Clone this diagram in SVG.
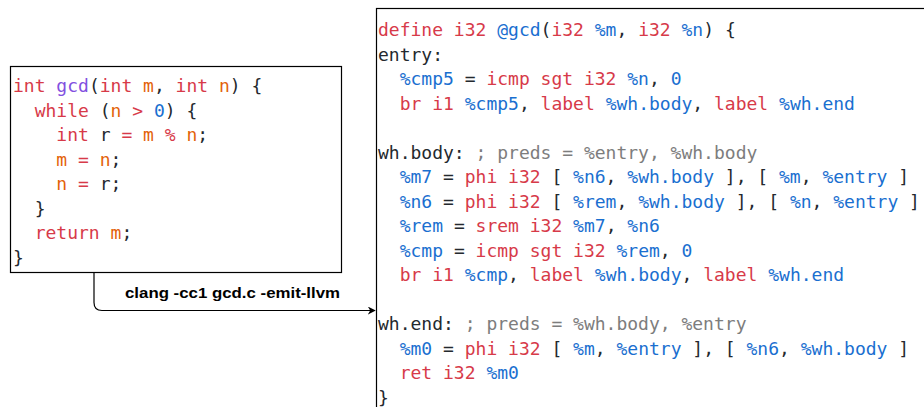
<svg xmlns="http://www.w3.org/2000/svg" width="924" height="407" viewBox="0 0 924 407">
  <style>
    .box { fill: #ffffff; stroke: #000000; stroke-width: 1.2; }
    .code { font-family: "DejaVu Sans Mono", "Liberation Mono", monospace; font-size: 18px; fill: #24292e; white-space: pre; }
    .kw { fill: #d73a49; }
    .id { fill: #1a6fd0; }
    .var { fill: #e36209; }
    .fn { fill: #8250df; }
    .num { fill: #1a6fd0; }
    .cm { fill: #7d7d7d; }
    .edge { fill: none; stroke: #000000; stroke-width: 1.2; }
    .label { font-family: "Liberation Sans", Arial, sans-serif; font-size: 15.5px; font-weight: bold; fill: #000000; }
  </style>
  <defs>
    <marker id="arrow" viewBox="0 0 10 10" refX="9" refY="5" markerWidth="8" markerHeight="8" markerUnits="userSpaceOnUse" orient="auto">
      <path d="M0,0 L10,5 L0,10 L3,5 Z" fill="#000000"/>
    </marker>
  </defs>
  <rect width="924" height="407" fill="#ffffff"/>

  <!-- C source -->
  <g id="c-source">
    <rect class="box" x="10.5" y="66.5" width="331" height="206"/>
    <text class="code" x="13" y="92.3"><tspan class="kw">int</tspan> <tspan class="fn">gcd</tspan>(<tspan class="kw">int</tspan> <tspan class="var">m</tspan>, <tspan class="kw">int</tspan> <tspan class="var">n</tspan>) {</text>
    <text class="code" x="13" y="116.8">  <tspan class="kw">while</tspan> (<tspan class="var">n</tspan> <tspan class="kw">&gt;</tspan> <tspan class="num">0</tspan>) {</text>
    <text class="code" x="13" y="141.3">    <tspan class="kw">int</tspan> r <tspan class="kw">=</tspan> <tspan class="var">m</tspan> <tspan class="kw">%</tspan> <tspan class="var">n</tspan>;</text>
    <text class="code" x="13" y="165.8">    <tspan class="var">m</tspan> <tspan class="kw">=</tspan> <tspan class="var">n</tspan>;</text>
    <text class="code" x="13" y="190.3">    <tspan class="var">n</tspan> <tspan class="kw">=</tspan> r;</text>
    <text class="code" x="13" y="214.8">  }</text>
    <text class="code" x="13" y="239.3">  <tspan class="kw">return</tspan> <tspan class="var">m</tspan>;</text>
    <text class="code" x="13" y="263.8">}</text>
  </g>

  <!-- LLVM IR output -->
  <g id="llvm-ir">
    <rect class="box" x="376.5" y="8.5" width="560" height="420"/>
    <text class="code" x="378" y="36"><tspan class="kw">define i32</tspan> <tspan class="id">@gcd</tspan>(<tspan class="kw">i32</tspan> <tspan class="id">%m</tspan>, <tspan class="kw">i32</tspan> <tspan class="id">%n</tspan>) {</text>
    <text class="code" x="378" y="60.5">entry:</text>
    <text class="code" x="378" y="85">  <tspan class="id">%cmp5</tspan> = <tspan class="kw">icmp sgt i32</tspan> <tspan class="id">%n</tspan>, <tspan class="num">0</tspan></text>
    <text class="code" x="378" y="109.5">  <tspan class="kw">br i1</tspan> <tspan class="id">%cmp5</tspan>, <tspan class="kw">label</tspan> <tspan class="id">%wh.body</tspan>, <tspan class="kw">label</tspan> <tspan class="id">%wh.end</tspan></text>
    <text class="code" x="378" y="158.5">wh.body: <tspan class="cm">; preds = %entry, %wh.body</tspan></text>
    <text class="code" x="378" y="183">  <tspan class="id">%m7</tspan> = <tspan class="kw">phi i32</tspan> [ <tspan class="id">%n6</tspan>, <tspan class="id">%wh.body</tspan> ], [ <tspan class="id">%m</tspan>, <tspan class="id">%entry</tspan> ]</text>
    <text class="code" x="378" y="207.5">  <tspan class="id">%n6</tspan> = <tspan class="kw">phi i32</tspan> [ <tspan class="id">%rem</tspan>, <tspan class="id">%wh.body</tspan> ], [ <tspan class="id">%n</tspan>, <tspan class="id">%entry</tspan> ]</text>
    <text class="code" x="378" y="232">  <tspan class="id">%rem</tspan> = <tspan class="kw">srem i32</tspan> <tspan class="id">%m7</tspan>, <tspan class="id">%n6</tspan></text>
    <text class="code" x="378" y="256.5">  <tspan class="id">%cmp</tspan> = <tspan class="kw">icmp sgt i32</tspan> <tspan class="id">%rem</tspan>, <tspan class="num">0</tspan></text>
    <text class="code" x="378" y="281">  <tspan class="kw">br i1</tspan> <tspan class="id">%cmp</tspan>, <tspan class="kw">label</tspan> <tspan class="id">%wh.body</tspan>, <tspan class="kw">label</tspan> <tspan class="id">%wh.end</tspan></text>
    <text class="code" x="378" y="330">wh.end: <tspan class="cm">; preds = %wh.body, %entry</tspan></text>
    <text class="code" x="378" y="354.5">  <tspan class="id">%m0</tspan> = <tspan class="kw">phi i32</tspan> [ <tspan class="id">%m</tspan>, <tspan class="id">%entry</tspan> ], [ <tspan class="id">%n6</tspan>, <tspan class="id">%wh.body</tspan> ]</text>
    <text class="code" x="378" y="379">  <tspan class="kw">ret i32</tspan> <tspan class="id">%m0</tspan></text>
    <text class="code" x="378" y="403.5">}</text>
  </g>

  <!-- compile step -->
  <g id="connectors">
    <path class="edge" d="M94,273 L94,302.5 Q94,310.5 102,310.5 L375,310.5" marker-end="url(#arrow)"/>
    <text class="label" x="232.5" y="297.5" text-anchor="middle" textLength="215" lengthAdjust="spacingAndGlyphs">clang -cc1 gcd.c -emit-llvm</text>
  </g>
</svg>
